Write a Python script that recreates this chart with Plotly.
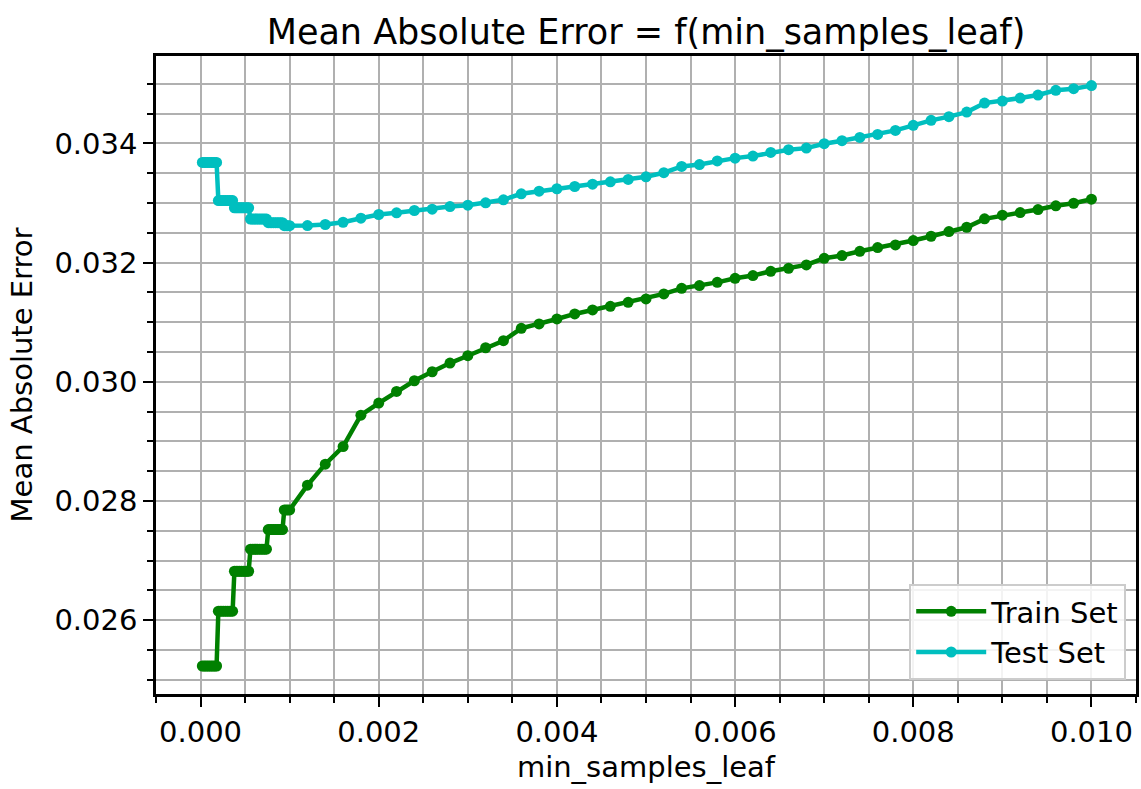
import plotly.graph_objects as go

# min_samples_leaf values (fine part then coarse part)
x_fine = [0.00002, 0.00004, 0.00006, 0.00008, 0.00010, 0.00012, 0.00014, 0.00016, 0.00018,
          0.00020, 0.00022, 0.00024, 0.00026, 0.00028, 0.00030, 0.00032, 0.00034, 0.00036,
          0.00038, 0.00040, 0.00042, 0.00044, 0.00046, 0.00048, 0.00050, 0.00052, 0.00054,
          0.00056, 0.00058, 0.00060, 0.00062, 0.00064, 0.00066, 0.00068, 0.00070, 0.00072, 0.00074,
          0.00076, 0.00078, 0.00080, 0.00082, 0.00084, 0.00086, 0.00088, 0.00090, 0.00092,
          0.00094, 0.00096, 0.00098, 0.00100]
x_coarse = [0.0012, 0.0014, 0.0016, 0.0018, 0.0020, 0.0022, 0.0024, 0.0026, 0.0028, 0.0030,
            0.0032, 0.0034, 0.0036, 0.0038, 0.0040, 0.0042, 0.0044, 0.0046, 0.0048, 0.0050,
            0.0052, 0.0054, 0.0056, 0.0058, 0.0060, 0.0062, 0.0064, 0.0066, 0.0068, 0.0070,
            0.0072, 0.0074, 0.0076, 0.0078, 0.0080, 0.0082, 0.0084, 0.0086, 0.0088, 0.0090,
            0.0092, 0.0094, 0.0096, 0.0098, 0.0100]

train_fine = [0.02523, 0.02523, 0.02523, 0.02523, 0.02523, 0.02523, 0.02523, 0.02523, 0.02523,
              0.02615, 0.02615, 0.02615, 0.02615, 0.02615, 0.02615, 0.02615, 0.02615, 0.02615,
              0.02682, 0.02682, 0.02682, 0.02682, 0.02682, 0.02682, 0.02682, 0.02682, 0.02682,
              0.02719, 0.02719, 0.02719, 0.02719, 0.02719, 0.02719, 0.02719, 0.02719, 0.02719, 0.02719,
              0.02752, 0.02752, 0.02752, 0.02752, 0.02752, 0.02752, 0.02752, 0.02752, 0.02752,
              0.02785, 0.02785, 0.02785, 0.02785]
train_coarse = [0.028264, 0.028617, 0.028913, 0.029440, 0.029642, 0.029837, 0.030017, 0.030168,
                0.030314, 0.030437, 0.030571, 0.030689, 0.030896, 0.030970, 0.031054, 0.031138,
                0.031205, 0.031266, 0.031333, 0.031390, 0.031474, 0.031568, 0.031615, 0.031668,
                0.031736, 0.031782, 0.031854, 0.031904, 0.031961, 0.032072, 0.032118, 0.032190,
                0.032252, 0.032297, 0.032370, 0.032442, 0.032521, 0.032593, 0.032734, 0.032795,
                0.032840, 0.032890, 0.032953, 0.032996, 0.033064]

test_fine = [0.03368, 0.03368, 0.03368, 0.03368, 0.03368, 0.03368, 0.03368, 0.03368, 0.03368,
             0.03304, 0.03304, 0.03304, 0.03304, 0.03304, 0.03304, 0.03304, 0.03304, 0.03304,
             0.03292, 0.03292, 0.03292, 0.03292, 0.03292, 0.03292, 0.03292, 0.03292, 0.03292,
             0.03273, 0.03273, 0.03273, 0.03273, 0.03273, 0.03273, 0.03273, 0.03273, 0.03273, 0.03273,
             0.03267, 0.03267, 0.03267, 0.03267, 0.03267, 0.03267, 0.03267, 0.03267, 0.03267,
             0.03262, 0.03262, 0.03262, 0.03262]
test_coarse = [0.032622, 0.032639, 0.032677, 0.032745, 0.032807, 0.032835, 0.032874, 0.032896,
               0.032941, 0.032963, 0.033003, 0.033054, 0.033155, 0.033198, 0.033239, 0.033277,
               0.033316, 0.033356, 0.033395, 0.033440, 0.033508, 0.033613, 0.033645, 0.033706,
               0.033753, 0.033787, 0.033849, 0.033894, 0.033921, 0.033995, 0.034045, 0.034101,
               0.034151, 0.034218, 0.034303, 0.034387, 0.034449, 0.034526, 0.034677, 0.034711,
               0.034761, 0.034812, 0.034891, 0.034919, 0.034970]

x_vals = x_fine + x_coarse
train_vals = train_fine + train_coarse
test_vals = test_fine + test_coarse

FONT = "DejaVu Sans"
GRID = "#b0b0b0"
FS = 29

fig = go.Figure()
fig.add_trace(go.Scatter(x=x_vals, y=train_vals, mode="lines+markers", name="Train Set",
                         line=dict(color="#008000", width=4.5),
                         marker=dict(color="#008000", size=11)))
fig.add_trace(go.Scatter(x=x_vals, y=test_vals, mode="lines+markers", name="Test Set",
                         line=dict(color="#00bfbf", width=4.5),
                         marker=dict(color="#00bfbf", size=11)))

axis_common = dict(
    showline=True, linecolor="black", linewidth=2.5, mirror=True,
    ticks="outside", ticklen=10, tickwidth=2, tickcolor="black",
    showgrid=True, gridcolor=GRID, gridwidth=2, zeroline=False,
    tickfont=dict(family=FONT, size=FS, color="black"),
    tickformat=".3f",
)

fig.update_layout(
    width=1141, height=789,
    margin=dict(l=156, r=2, t=56, b=95),
    paper_bgcolor="white", plot_bgcolor="white",
    title=dict(text="Mean Absolute Error = f(min_samples_leaf)", x=0.5, xref="paper",
               y=1 - 32 / 789, yanchor="middle",
               font=dict(family=FONT, size=35, color="black")),
    xaxis=dict(range=[-0.0005, 0.0105], dtick=0.002, tick0=0,
               title=dict(text="min_samples_leaf", standoff=10,
                          font=dict(family=FONT, size=FS, color="black")),
               minor=dict(dtick=0.0005, tick0=0, ticks="outside", ticklen=6, tickwidth=2,
                          tickcolor="black", showgrid=True, gridcolor=GRID, gridwidth=2),
               **axis_common),
    yaxis=dict(range=[0.02476, 0.035467], dtick=0.002, tick0=0.026,
               title=dict(text="Mean Absolute Error", standoff=14,
                          font=dict(family=FONT, size=FS, color="black")),
               minor=dict(dtick=0.0005, tick0=0.026, ticks="outside", ticklen=6, tickwidth=2,
                          tickcolor="black", showgrid=True, gridcolor=GRID, gridwidth=2),
               **axis_common),
    legend=dict(x=0.99, y=0.022, xanchor="right", yanchor="bottom",
                bgcolor="rgba(255,255,255,0.85)", bordercolor="#cccccc", borderwidth=2,
                font=dict(family=FONT, size=FS, color="black"), itemwidth=70),
    showlegend=True,
)

fig.write_html("out.html")
